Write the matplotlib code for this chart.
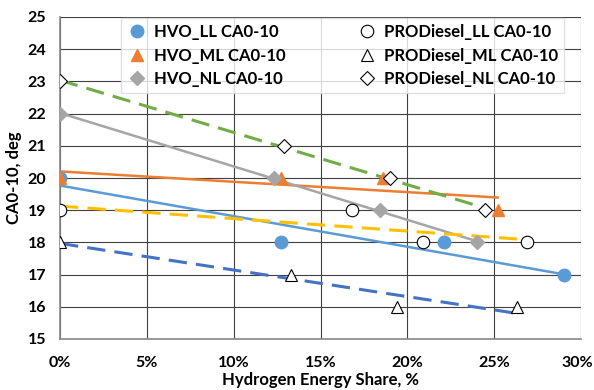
import numpy as np
import matplotlib
matplotlib.use("Agg")
import matplotlib.pyplot as plt
import matplotlib.transforms as mtransforms
from matplotlib.ticker import FuncFormatter

# hydrogen energy share (%) and CA0-10 (deg)
hvo_ll_x = [0.0, 12.7, 22.1, 29.0]
hvo_ll_y = [20, 18, 18, 17]
hvo_ml_x = [0.0, 12.7, 18.6, 25.2]
hvo_ml_y = [20, 20, 20, 19]
hvo_nl_x = [0.0, 12.3, 18.4, 24.0]
hvo_nl_y = [22, 20, 19, 18]
pro_ll_x = [0.0, 16.8, 20.9, 26.9]
pro_ll_y = [19, 19, 18, 18]
pro_ml_x = [0.0, 13.3, 19.4, 26.3]
pro_ml_y = [18, 17, 16, 16]
pro_nl_x = [0.0, 12.9, 19.0, 24.5]
pro_nl_y = [23, 21, 20, 19]

FONT = "Lato"

fig = plt.figure(figsize=(5.94, 3.90), dpi=100)
ax = fig.add_axes([60 / 594, 1 - 339 / 390, 521 / 594, 322 / 390])


def trend(x, y, color, ls):
    k, b = np.polyfit(x, y, 1)
    xs = np.array([min(x), max(x)])
    ax.plot(xs, k * xs + b, color=color, lw=2.2 if ls != "-" else 1.8,
            ls=ls, dashes=(6, 3) if ls == "--" else (None, None), zorder=2)


trend(hvo_ll_x, hvo_ll_y, "#5B9BD5", "-")
trend(hvo_ml_x, hvo_ml_y, "#ED7D31", "-")
trend(hvo_nl_x, hvo_nl_y, "#A5A5A5", "-")
trend(pro_ll_x, pro_ll_y, "#FFC000", "--")
trend(pro_ml_x, pro_ml_y, "#4472C4", "--")
trend(pro_nl_x, pro_nl_y, "#70AD47", "--")

h = []
h += ax.plot(hvo_ll_x, hvo_ll_y, "o", ms=9, color="#5B9BD5", ls="none",
             label="HVO_LL CA0-10", zorder=3)
h += ax.plot(hvo_ml_x, hvo_ml_y, "^", ms=9, color="#ED7D31", ls="none",
             label="HVO_ML CA0-10", zorder=3)
h += ax.plot(hvo_nl_x, hvo_nl_y, "D", ms=7, color="#A5A5A5", ls="none",
             label="HVO_NL CA0-10", zorder=3)
h += ax.plot(pro_ll_x, pro_ll_y, "o", ms=9, mfc="white", mec="black", mew=0.8,
             ls="none", label="PRODiesel_LL CA0-10", zorder=4)
h += ax.plot(pro_ml_x, pro_ml_y, "^", ms=9, mfc="white", mec="black", mew=0.8,
             ls="none", label="PRODiesel_ML CA0-10", zorder=4)
h += ax.plot(pro_nl_x, pro_nl_y, "D", ms=7, mfc="white", mec="black", mew=0.8,
             ls="none", label="PRODiesel_NL CA0-10", zorder=4)

ax.set_xlim(0, 30)
ax.set_ylim(15, 25)
ax.set_xticks(np.arange(0, 31, 5))
ax.set_yticks(np.arange(15, 26, 1))
ax.xaxis.set_major_formatter(FuncFormatter(lambda v, p: f"{v:.0f}%"))
ax.grid(True, color="#404040", lw=0.8)
ax.set_axisbelow(True)
for s in ["top", "right"]:
    ax.spines[s].set_visible(False)
for s in ["left", "bottom"]:
    ax.spines[s].set_color("#888888")
    ax.spines[s].set_linewidth(1.2)
ax.tick_params(axis="x", length=0, pad=12)
ax.tick_params(axis="y", length=0, pad=10)
for lab in ax.get_xticklabels() + ax.get_yticklabels():
    lab.set_fontfamily(FONT)
    lab.set_fontweight("bold")
    lab.set_fontsize(11.5)
# keep the "30%" label inside the canvas, as in the source
last = ax.get_xticklabels()[-1]
last.set_horizontalalignment("right")
last.set_transform(last.get_transform() +
                   mtransforms.ScaledTranslation(12 / 100, 0, fig.dpi_scale_trans))
ax.set_xlabel("Hydrogen Energy Share, %", fontfamily=FONT, fontweight="bold",
              fontsize=12, labelpad=2)
ax.set_ylabel("CA0-10, deg", fontfamily=FONT, fontweight="bold",
              fontsize=12, labelpad=4)

leg = fig.legend(handles=h, ncol=2, loc="upper left",
                 bbox_to_anchor=(113 / 594, 1 - 10 / 390),
                 prop={"family": FONT, "weight": "bold", "size": 12},
                 frameon=True, fancybox=False, handletextpad=0.4,
                 columnspacing=4.3, borderpad=0.35, labelspacing=0.45,
                 handlelength=1.2)
leg.get_frame().set_edgecolor("#D9D9D9")
leg.get_frame().set_linewidth(1.0)

fig.savefig("out.png", dpi=100)
